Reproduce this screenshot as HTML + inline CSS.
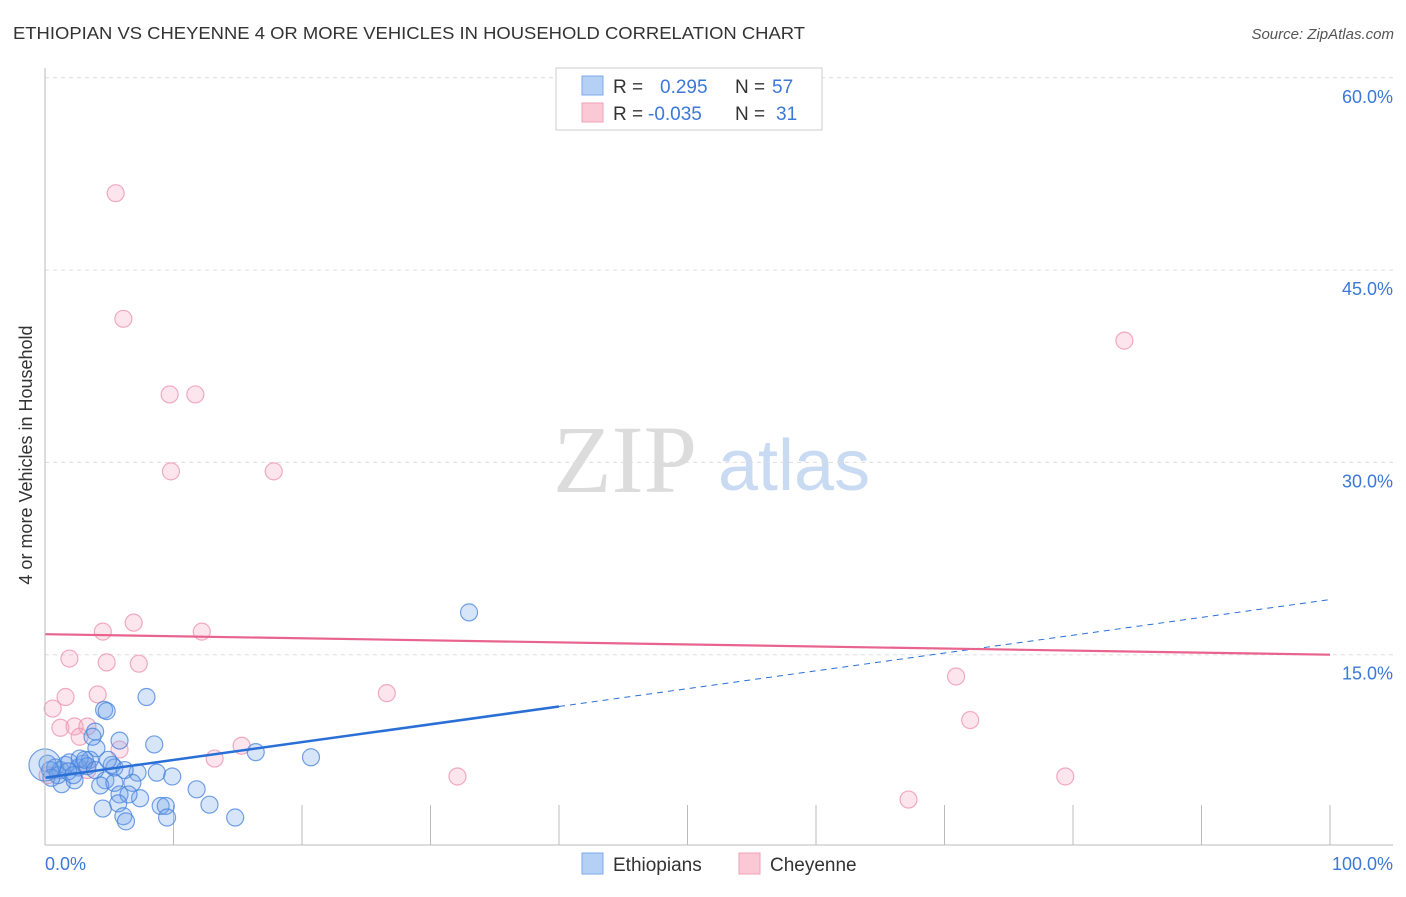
<!DOCTYPE html>
<html><head><meta charset="utf-8"><style>
body{margin:0;background:#fff;font-family:"Liberation Sans",sans-serif}
</style></head><body>
<svg id="c" width="1406" height="892" xmlns="http://www.w3.org/2000/svg">
<text x="13" y="39" font-size="17.5" fill="#333" textLength="792" lengthAdjust="spacingAndGlyphs">ETHIOPIAN VS CHEYENNE 4 OR MORE VEHICLES IN HOUSEHOLD CORRELATION CHART</text>
<text x="1394" y="39" font-size="15" fill="#555" font-style="italic" text-anchor="end">Source: ZipAtlas.com</text>
<text x="32" y="455" font-size="18" fill="#333" text-anchor="middle" transform="rotate(-90 32 455)">4 or more Vehicles in Household</text>
<g>
<text x="553" y="492" font-family="Liberation Serif,serif" font-size="96" fill="#dcdcdc">ZIP</text>
<text x="718" y="490" font-size="72" fill="#c9daf3">atlas</text>
</g>
<g id="grid"></g><g id="pts"></g><g id="trend"></g>
<line x1="45" y1="845" x2="1393" y2="845" stroke="#bbb"/>
<line x1="45" y1="68" x2="45" y2="845" stroke="#bbb"/>
<text x="45" y="870" font-size="18" fill="#3b78d8">0.0%</text>
<text x="1393" y="870" font-size="18" fill="#3b78d8" text-anchor="end">100.0%</text>
<g>
<rect x="556" y="68" width="266" height="62" fill="#fff" stroke="#ccc"/>
<rect x="582" y="76" width="21" height="19" fill="#b5d0f5" stroke="#7ea8e8"/>
<rect x="582" y="103" width="21" height="19" fill="#fbc8d6" stroke="#f0a0b8"/>
<text x="613" y="93" font-size="19" fill="#333">R =</text><text x="660" y="93" font-size="19" fill="#3b78d8">0.295</text>
<text x="735" y="93" font-size="19" fill="#333">N =</text><text x="772" y="93" font-size="19" fill="#3b78d8">57</text>
<text x="613" y="120" font-size="19" fill="#333">R =</text><text x="648" y="120" font-size="19" fill="#3b78d8">-0.035</text>
<text x="735" y="120" font-size="19" fill="#333">N =</text><text x="776" y="120" font-size="19" fill="#3b78d8">31</text>
</g>
<g>
<rect x="582" y="853" width="21" height="21" fill="#b5d0f5" stroke="#7ea8e8"/>
<text x="613" y="871" font-size="19" fill="#333">Ethiopians</text>
<rect x="739" y="853" width="21" height="21" fill="#fbc8d6" stroke="#f0a0b8"/>
<text x="770" y="871" font-size="19" fill="#333">Cheyenne</text>
</g>
</svg>
<script>
const yTicks=[15,30,45,60];
const xTicks=[0,10,20,30,40,50,60,70,80,90,100];
const ethX=[33,7.9,4.6,3.9,4.0,5.8,8.5,16.4,20.7,0.2,0.8,1.2,1.6,1.9,2.6,3.0,3.5,1.3,2.3,4.7,5.4,7.2,8.7,9.9,4.3,5.4,6.8,7.4,5.8,6.5,5.7,9.0,9.4,11.8,12.8,4.5,6.1,6.3,9.5,14.8,0.4,1.0,1.8,2.7,3.3,5.2,3.1,0.5,2.2,3.9,4.9,6.2,3.7,4.8,0];
const ethY=[18.3,11.7,10.7,9.0,7.7,8.3,8.0,7.4,7.0,6.5,6.2,6.0,6.4,6.6,6.2,6.5,6.8,4.9,5.2,5.2,6.2,5.8,5.8,5.5,4.8,5.0,5.0,3.8,4.1,4.1,3.4,3.2,3.2,4.5,3.3,3.0,2.4,2.0,2.3,2.3,6.0,5.6,5.9,6.9,6.3,6.4,6.8,5.4,5.6,6.0,6.8,6.0,8.6,10.6,6.4];
const cheX=[5.5,6.1,9.7,11.7,9.8,17.8,84,4.5,6.9,12.2,1.9,4.8,7.3,1.6,4.1,26.6,0.6,1.2,2.3,3.3,2.7,5.8,13.2,15.3,32.1,70.9,72,67.2,79.4,0.2,3.3];
const cheY=[51,41.2,35.3,35.3,29.3,29.3,39.5,16.8,17.5,16.8,14.7,14.4,14.3,11.7,11.9,12,10.8,9.3,9.4,9.4,8.6,7.6,6.9,7.9,5.5,13.3,9.9,3.7,5.5,5.6,6.0];
const ethTrend=[5.4,19.3];
const cheTrend=[16.6,15.0];
const sx=v=>45+v*12.85, sy=v=>847-v*12.82;
const NS="http://www.w3.org/2000/svg";
function mk(p,t,a){const e=document.createElementNS(NS,t);for(const k in a)e.setAttribute(k,a[k]);p.appendChild(e);return e;}
const grid=document.getElementById('grid');
yTicks.forEach(v=>{
 const l=mk(grid,'line',{x1:45,x2:1393,y1:sy(v),y2:sy(v),stroke:'#ddd','stroke-dasharray':'4 4'});
 
 
 const t=mk(grid,'text',{x:1393,y:sy(v)+25,'font-size':18,fill:'#3b78d8','text-anchor':'end'});
 t.textContent=v.toFixed(1)+'%';
 
 
});
xTicks.forEach(v=>{
 const l=mk(grid,'line',{x1:sx(v),x2:sx(v),y1:805,y2:845,stroke:'#bbb'});
 
 
});
const pts=document.getElementById('pts');
cheX.forEach((x,i)=>{
 const c=mk(pts,'circle',{cx:sx(x),cy:sy(cheY[i]),r:8.5,fill:'rgba(245,160,185,0.28)',stroke:'rgba(238,150,180,0.8)','stroke-width':1.2});
 
 
});
ethX.forEach((x,i)=>{
 const c=mk(pts,'circle',{cx:sx(x),cy:sy(ethY[i]),r:i==ethX.length-1?16:8.5,fill:'rgba(110,160,235,0.28)',stroke:'rgba(70,130,220,0.75)','stroke-width':1.2});
 
 
});
const tr=document.getElementById('trend');
const ey=v=>ethTrend[0]+(ethTrend[1]-ethTrend[0])*v/100;
let l=mk(tr,'line',{x1:sx(0),y1:sy(ey(0)),x2:sx(40),y2:sy(ey(40)),stroke:'#2a6fd6','stroke-width':2.5});


l=mk(tr,'line',{x1:sx(40),y1:sy(ey(40)),x2:sx(100),y2:sy(ey(100)),stroke:'#2a6fd6','stroke-width':1,'stroke-dasharray':'6 5'});


l=mk(tr,'line',{x1:sx(0),y1:sy(cheTrend[0]),x2:sx(100),y2:sy(cheTrend[1]),stroke:'#e8638d','stroke-width':2.2});


</script>
</body></html>
